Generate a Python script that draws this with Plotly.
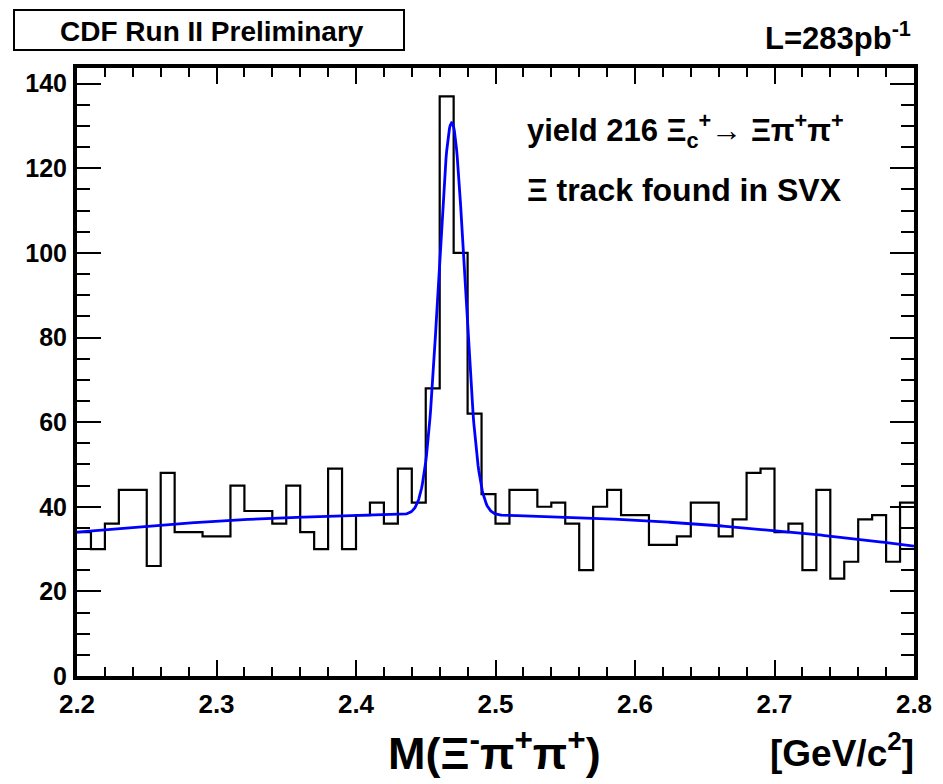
import numpy as np
import plotly.graph_objects as go

# Xi_c+ -> Xi- pi+ pi+ candidates per 10 MeV/c^2 bin, 2.20 - 2.80 GeV/c^2
bin_low = 2.20
bin_width = 0.01
counts = [34, 30, 36, 44, 44, 26, 48, 34, 34, 33,
          33, 45, 39, 39, 36, 45, 34, 30, 49, 30,
          38, 41, 36, 49, 41, 68, 137, 100, 62, 43,
          36, 44, 44, 40, 41, 36, 25, 40, 44, 38,
          38, 31, 31, 33, 41, 41, 33, 37, 48, 49,
          34, 36, 25, 44, 23, 27, 37, 38, 27, 41]

# Fit: Gaussian signal (yield in events) on a quadratic background
signal_yield = 216
signal_mean = 2.4686
signal_sigma = 0.0093
bkg_coeffs = [38.0, -5.5, -62.8]   # a + b*(m-2.5) + c*(m-2.5)^2, per bin
bkg_ref = 2.5

x_range = [2.2, 2.8]
y_range = [0, 143.7]
x_ticks = [2.2, 2.3, 2.4, 2.5, 2.6, 2.7, 2.8]
y_ticks = [0, 20, 40, 60, 80, 100, 120, 140]

edges = bin_low + bin_width * np.arange(len(counts) + 1)
step_x = list(edges)
step_y = counts + [counts[-1]]

m = np.linspace(x_range[0], x_range[1], 1201)
t = m - bkg_ref
bkg = bkg_coeffs[0] + bkg_coeffs[1] * t + bkg_coeffs[2] * t ** 2
gauss = (signal_yield * bin_width / (signal_sigma * np.sqrt(2 * np.pi))
         * np.exp(-0.5 * ((m - signal_mean) / signal_sigma) ** 2))
fit = bkg + gauss

fig = go.Figure()
fig.add_trace(go.Scatter(x=step_x, y=step_y, mode="lines",
                         line=dict(color="black", width=2.2, shape="hv"),
                         hoverinfo="skip"))
fig.add_trace(go.Scatter(x=m, y=fit, mode="lines",
                         line=dict(color="#0000ff", width=2.8),
                         hoverinfo="skip"))

W, H = 943, 784
L, R, T, B = 77, 29, 68, 108
pw, ph = W - L - R, H - T - B


def px(xp):
    return (xp - L) / pw


def py(yp):
    return (H - B - yp) / ph


bold = dict(family="Liberation Sans, Arial, sans-serif", color="black", weight="bold")

fig.update_layout(
    width=W, height=H,
    margin=dict(l=L, r=R, t=T, b=B),
    paper_bgcolor="white", plot_bgcolor="white",
    showlegend=False,
    xaxis=dict(range=x_range, tickvals=x_ticks, ticktext=[f"{v:.1f}" for v in x_ticks],
               ticks="inside", ticklen=16, tickwidth=2, tickcolor="black",
               minor=dict(dtick=0.02, tick0=2.2, ticks="inside", ticklen=9,
                          tickwidth=2, tickcolor="black"),
               showline=True, linewidth=4, linecolor="black", mirror="ticks",
               showgrid=False, zeroline=False,
               tickfont=dict(size=26, **bold), ticklabelstandoff=2),
    yaxis=dict(range=y_range, tickvals=y_ticks,
               ticks="inside", ticklen=24, tickwidth=2, tickcolor="black",
               minor=dict(dtick=5, tick0=0, ticks="inside", ticklen=13,
                          tickwidth=2, tickcolor="black"),
               showline=True, linewidth=4, linecolor="black", mirror="ticks",
               showgrid=False, zeroline=False,
               tickfont=dict(size=25, **bold), ticklabelstandoff=1),
)

fig.add_shape(type="rect", xref="paper", yref="paper",
              x0=px(14), x1=px(404), y0=py(50), y1=py(10),
              line=dict(color="black", width=2), fillcolor="white")

annos = [
    dict(x=px(212), y=py(31), text="CDF Run II Preliminary", size=28, xanchor="center"),
    dict(x=px(913), y=py(36), text="L=283pb<sup>-1</sup>", size=31, xanchor="right"),
    dict(x=px(525), y=py(131),
         text="yield 216 Ξ<sub>c</sub><sup>+</sup>→ Ξπ<sup>+</sup>π<sup>+</sup>",
         size=31, xanchor="left"),
    dict(x=px(525), y=py(190), text="Ξ track found in SVX", size=32, xanchor="left"),
    dict(x=px(494), y=py(750), text="M(Ξ<sup>-</sup>π<sup>+</sup>π<sup>+</sup>)",
         size=45, xanchor="center"),
    dict(x=px(916), y=py(750), text="[GeV/c<sup>2</sup>]", size=37, xanchor="right"),
]
for a in annos:
    fig.add_annotation(x=a["x"], y=a["y"], xref="paper", yref="paper",
                       text=a["text"], showarrow=False,
                       xanchor=a["xanchor"], yanchor="middle",
                       font=dict(size=a["size"], **bold))

fig.write_html("out.html")
